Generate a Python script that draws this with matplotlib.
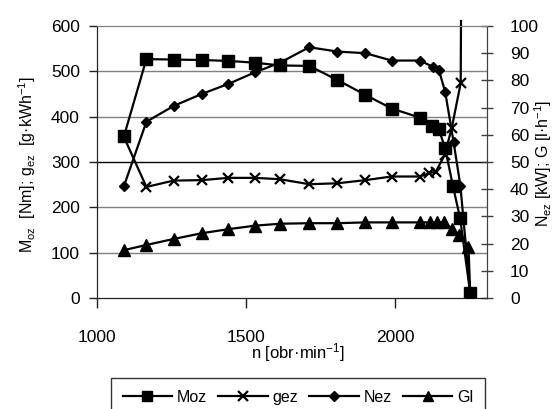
import matplotlib
matplotlib.use("Agg")
import matplotlib.pyplot as plt
from matplotlib.lines import Line2D

plt.rcParams['font.family'] = ['Liberation Sans', 'DejaVu Sans']
plt.rcParams['mathtext.default'] = 'regular'

# ---- data ----
moz_n = [1092, 1167, 1258, 1352, 1441, 1531, 1614, 1712, 1806, 1900, 1988, 2082,
         2122, 2146, 2167, 2193, 2217, 2251]
moz_v = [357, 527, 526, 525, 523, 519, 513, 512, 481, 448, 418, 398,
         379, 372, 330, 247, 176, 10]

gez_n = [1092, 1167, 1258, 1352, 1441, 1531, 1614, 1712, 1806, 1900, 1988, 2082,
         2113, 2136, 2165, 2189, 2219, 2220]
gez_v = [355, 245, 259, 260, 265, 265, 262, 251, 253, 260, 268, 268,
         275, 279, 315, 375, 474, 611]

nez_n = [1092, 1167, 1258, 1352, 1441, 1531, 1614, 1712, 1806, 1900, 1988, 2082,
         2126, 2146, 2167, 2195, 2218, 2251]
nez_v = [41.2, 64.8, 70.6, 75.0, 78.7, 83.0, 86.5, 92.2, 90.6, 90.0, 87.3, 87.3,
         85.0, 83.8, 75.8, 57.5, 41.2, 1.5]

gl_n = [1092, 1167, 1258, 1352, 1441, 1531, 1614, 1712, 1806, 1900, 1988, 2082,
        2115, 2138, 2162, 2189, 2213, 2245, 2251]
gl_v = [17.6, 19.5, 21.7, 23.8, 25.3, 26.6, 27.3, 27.5, 27.5, 27.8, 27.8, 27.8,
        27.8, 27.8, 27.8, 25.5, 23.3, 18.9, 1.0]

x_ticks = [1000, 1500, 2000]
left_ticks = [0, 100, 200, 300, 400, 500, 600]
right_ticks = [0, 10, 20, 30, 40, 50, 60, 70, 80, 90, 100]
labels = ['Moz', 'gez', 'Nez', 'Gl']

# ---- figure ----
W, H = 557, 409
fig = plt.figure(figsize=(W / 100, H / 100), dpi=100)
L, R, T, B = 96.5, 487.0, 26.0, 298.0
ax = fig.add_axes([L / W, 1 - B / H, (R - L) / W, (B - T) / H])
ax2 = ax.twinx()

ax.set_xlim(1000, 2307)
ax.set_ylim(0, 600)
ax2.set_ylim(0, 100)

# grid lines
for g in [100, 200, 300, 400, 500]:
    ax.axhline(g, color='#000000' if g == 300 else '#808080', lw=1.0, zorder=0)

lw = 1.6
c = 'black'
ax.plot(moz_n, moz_v, color=c, lw=lw, marker='s', ms=8, zorder=3)
ax.plot(gez_n, gez_v, color=c, lw=lw, marker='x', ms=7, mew=1.6,
        markevery=list(range(len(gez_n) - 1)), clip_on=False, zorder=3)
ax2.plot(nez_n, nez_v, color=c, lw=lw, marker='D', ms=5.5, zorder=3)
ax2.plot(gl_n, gl_v, color=c, lw=lw, marker='^', ms=8, zorder=3)

# spines
for a in (ax, ax2):
    a.spines['top'].set_color('#808080')
    a.spines['left'].set_color('#202020')
    a.spines['bottom'].set_color('#202020')
    a.spines['right'].set_color('#404040')

ax.set_xticks(x_ticks)
ax.set_xticklabels([str(t) for t in x_ticks])
ax.set_yticks(left_ticks)
ax.set_yticklabels([str(t) for t in left_ticks])
ax2.set_yticks(right_ticks)
ax2.set_yticklabels([str(t) for t in right_ticks])

ax.tick_params(axis='x', direction='out', length=7, width=1, color='#202020',
               labelsize=12.5, pad=16)
ax.tick_params(axis='y', direction='out', length=6, width=1, color='#202020',
               labelsize=12.5, pad=6)
ax2.tick_params(axis='y', direction='inout', length=9, width=1, color='#404040',
                labelsize=12.5, pad=12)

fig.text(298 / W, 1 - 353 / H, 'n [obr·min$^{-1}$]', ha='center', va='center', fontsize=12)
fig.text(27.5 / W, 1 - 165 / H, 'M$_{oz}$  [Nm]; g$_{ez}$  [g·kWh$^{-1}$]',
         rotation=90, ha='center', va='center', fontsize=11.5)
fig.text(543 / W, 1 - 163 / H, 'N$_{ez}$ [kW]; G [l·h$^{-1}$]',
         rotation=90, ha='center', va='center', fontsize=11.5)

handles = [
    Line2D([], [], color=c, lw=lw, marker='s', ms=7.5),
    Line2D([], [], color=c, lw=lw, marker='x', ms=7, mew=1.6),
    Line2D([], [], color=c, lw=lw, marker='D', ms=5.5),
    Line2D([], [], color=c, lw=lw, marker='^', ms=7.5),
]
leg = fig.legend(handles, labels, loc='upper center', bbox_to_anchor=(298 / W, 1 - 378 / H),
                 ncol=4, fontsize=11.5, frameon=True, fancybox=False, shadow=False,
                 handlelength=3.1, handletextpad=0.3, columnspacing=0.7,
                 borderpad=0.75, borderaxespad=0)
leg.get_frame().set_edgecolor('black')
leg.get_frame().set_linewidth(1.0)

fig.savefig('out.png', dpi=100)
